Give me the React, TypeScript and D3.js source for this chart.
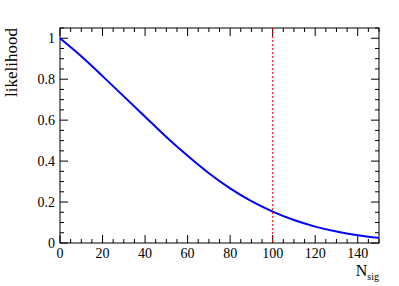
import React from "react";
import * as d3 from "d3";

// likelihood vs N_sig
const nsig = [0, 10, 20, 30, 40, 50, 60, 70, 80, 90, 100, 110, 120, 130, 140, 150];
const likelihood = [1.0, 0.912, 0.815, 0.716, 0.617, 0.518, 0.426, 0.341, 0.267, 0.204, 0.153, 0.112, 0.08, 0.056, 0.038, 0.025];
const cutValue = 100;

const xMajor = [0, 20, 40, 60, 80, 100, 120, 140];
const yMajor = [0, 0.2, 0.4, 0.6, 0.8, 1];

const W = 399;
const H = 286;
const margin = { left: 60, right: 20, top: 28, bottom: 43 };

export default function App() {
  const x = d3.scaleLinear().domain([0, 150]).range([margin.left, W - margin.right]);
  const y = d3.scaleLinear().domain([0, 1.05]).range([H - margin.bottom, margin.top]);

  const xMinor = d3.range(0, 150.01, 5);
  const yMinor = d3.range(0, 1.0501, 0.05);

  const line = d3
    .line<number>()
    .x((d, i) => x(nsig[i]))
    .y((d) => y(d))
    .curve(d3.curveMonotoneX);

  const x0 = x(0), x1 = x(150), yb = y(0), yt = y(1.05);
  const font = "'Liberation Serif', 'Times New Roman', serif";

  return (
    <svg width={W} height={H} style={{ position: "absolute", left: 0, top: 0, background: "#fff" }}>
      <rect x={0} y={0} width={W} height={H} fill="#fff" />
      {/* ticks, bottom + top */}
      {xMinor.map((v) => {
        const major = v % 20 === 0;
        const len = major ? 8 : 4;
        return (
          <g key={"xt" + v} stroke="#000" strokeWidth={1}>
            <line x1={x(v)} x2={x(v)} y1={yb} y2={yb - len} />
            <line x1={x(v)} x2={x(v)} y1={yt} y2={yt + len} />
          </g>
        );
      })}
      {/* ticks, left + right */}
      {yMinor.map((v, i) => {
        const major = i % 4 === 0;
        const len = major ? 8 : 4;
        return (
          <g key={"yt" + i} stroke="#000" strokeWidth={1}>
            <line x1={x0} x2={x0 + len} y1={y(v)} y2={y(v)} />
            <line x1={x1} x2={x1 - len} y1={y(v)} y2={y(v)} />
          </g>
        );
      })}
      <rect x={x0} y={yt} width={x1 - x0} height={yb - yt} fill="none" stroke="#000" strokeWidth={1} />

      <path d={line(likelihood) || ""} fill="none" stroke="#0000ff" strokeWidth={2} />
      <line x1={x(cutValue)} x2={x(cutValue)} y1={yt} y2={yb} stroke="#ff0000" strokeWidth={1} strokeDasharray="2,2" />

      {/* tick labels */}
      <g fontFamily={font} fontSize={14} fill="#000">
        {xMajor.map((v) => (
          <text key={"xl" + v} x={x(v)} y={yb + 15} textAnchor="middle">{v}</text>
        ))}
        {yMajor.map((v) => (
          <text key={"yl" + v} x={55} y={y(v) + 5} textAnchor="end">{v}</text>
        ))}
      </g>

      {/* axis titles */}
      <text x={x1} y={276} textAnchor="end" fontFamily={font} fontSize={16}>
        N<tspan fontSize={10} dy={4}>sig</tspan>
      </text>
      <text transform={`translate(17,${yt}) rotate(-90)`} textAnchor="end" fontFamily={font} fontSize={17}>
        likelihood
      </text>
    </svg>
  );
}
